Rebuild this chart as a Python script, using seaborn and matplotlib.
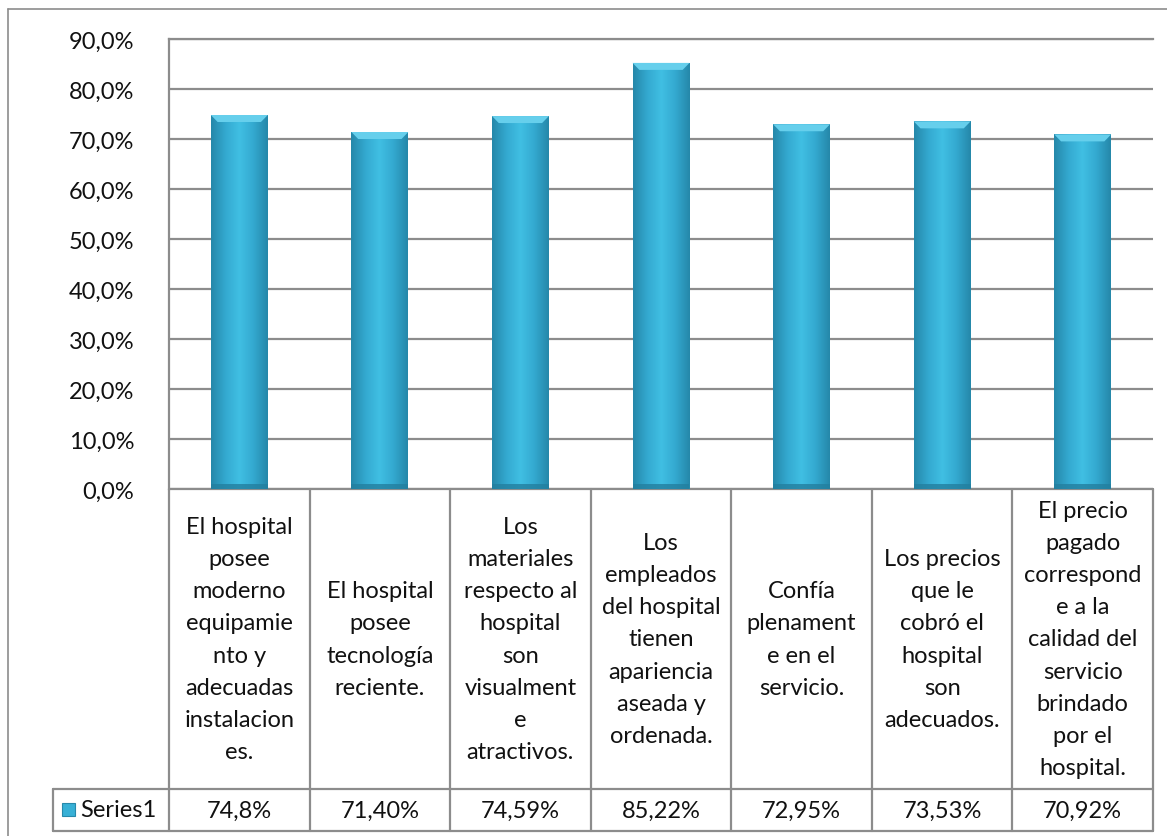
import numpy as np
import pandas as pd
import matplotlib
matplotlib.use("Agg")
import matplotlib.pyplot as plt
import seaborn as sns
from matplotlib.transforms import blended_transform_factory
from matplotlib.colors import LinearSegmentedColormap

# --- data ---
categories = [
    "El hospital\nposee\nmoderno\nequipamie\nnto y\nadecuadas\ninstalacion\nes.",
    "El hospital\nposee\ntecnología\nreciente.",
    "Los\nmateriales\nrespecto al\nhospital\nson\nvisualment\ne\natractivos.",
    "Los\nempleados\ndel hospital\ntienen\napariencia\naseada y\nordenada.",
    "Confía\nplenament\ne en el\nservicio.",
    "Los precios\nque le\ncobró el\nhospital\nson\nadecuados.",
    "El precio\npagado\ncorrespond\ne a la\ncalidad del\nservicio\nbrindado\npor el\nhospital.",
]
values = [74.8, 71.40, 74.59, 85.22, 72.95, 73.53, 70.92]
value_labels = ["74,8%", "71,40%", "74,59%", "85,22%", "72,95%", "73,53%", "70,92%"]
series_name = "Series1"
yticks = [0, 10, 20, 30, 40, 50, 60, 70, 80, 90]

sns.set_style("white")
plt.rcParams['font.family'] = ['Lato', 'DejaVu Sans']
FS = 17
GRID = "#8c8c8c"
TXT = "#111111"

W, H = 1167, 837
fig = plt.figure(figsize=(W / 100, H / 100), dpi=100)

# overlay axes in pixel coordinates for table / border
ov = fig.add_axes([0, 0, 1, 1], zorder=0)
ov.set_xlim(0, W)
ov.set_ylim(H, 0)
ov.axis("off")

x0, x1, ytop, ybot = 169, 1153, 40, 490
ax = fig.add_axes([x0 / W, 1 - ybot / H, (x1 - x0) / W, (ybot - ytop) / H], zorder=2)
ax.patch.set_alpha(0)

df = pd.DataFrame({"cat": [str(i) for i in range(len(values))], "val": values})
sns.barplot(data=df, x="cat", y="val", color="#37b0d6", width=0.405, ax=ax,
            saturation=1, edgecolor="none", zorder=3)
ax.set_xlim(-0.5, len(values) - 0.5)
ax.set_ylim(0, 90)
ax.set_yticks(yticks)
ax.set_yticklabels([f"{t:.1f}%".replace(".", ",") for t in yticks], fontsize=FS, color=TXT)
ax.tick_params(axis="y", length=0, pad=25)
ax.set_xticks([])
ax.set_xlabel("")
ax.set_ylabel("")
ax.yaxis.grid(True, color=GRID, linewidth=1.6, zorder=1)
ax.set_axisbelow(True)
for s in ["right", "bottom"]:
    ax.spines[s].set_visible(False)
ax.spines["top"].set_color(GRID)
ax.spines["top"].set_linewidth(1.6)
ax.spines["left"].set_color(GRID)
ax.spines["left"].set_linewidth(1.6)

# cylinder-like gradient fill on bars
cmap = LinearSegmentedColormap.from_list("bev", ["#2588aa", "#34a9d0", "#40bfe3", "#34a9d0", "#2588aa"])
xs = np.linspace(0, 1, 64)
grad = np.tile(xs, (64, 1))
for p in ax.patches:
    bx, by, bw, bh = p.get_x(), p.get_y(), p.get_width(), p.get_height()
    im = ax.imshow(grad, cmap=cmap, extent=[bx, bx + bw, by, by + bh],
                   aspect="auto", zorder=4, interpolation="bicubic")
    im.set_clip_path(p)
    # top bevel
    ax.fill([bx, bx + bw, bx + bw * 0.88, bx + bw * 0.12],
            [by + bh, by + bh, by + bh - 1.4, by + bh - 1.4],
            color="#66cfec", zorder=5, lw=0)
    # bottom shade
    ax.fill([bx, bx + bw, bx + bw, bx],
            [0, 0, 1.0, 1.0], color="#237f9f", zorder=5, lw=0, alpha=0.8)
ax.set_xlim(-0.5, len(values) - 0.5)
ax.set_ylim(0, 90)

# --- data table ---
tr = blended_transform_factory(ax.transData, ov.transData)
row_top, row_bot = 790, 832
lw = 1.6
ov.plot([x0, x1], [ybot, ybot], color=GRID, lw=lw)
for i in range(len(values) + 1):
    ov.plot([i - 0.5, i - 0.5], [ybot, row_bot], color=GRID, lw=lw, transform=tr)
ov.plot([53, x1], [row_top, row_top], color=GRID, lw=lw)
ov.plot([53, x1], [row_bot, row_bot], color=GRID, lw=lw)
ov.plot([53, 53], [row_top, row_bot], color=GRID, lw=lw)
for i, (c, v) in enumerate(zip(categories, value_labels)):
    ov.text(i, (ybot + row_top) / 2, c, transform=tr, ha="center", va="center",
            fontsize=FS, linespacing=1.65, color=TXT)
    ov.text(i, (row_top + row_bot) / 2, v, transform=tr, ha="center", va="center",
            fontsize=FS, color=TXT)
# legend key
ov.add_patch(plt.Rectangle((62, 804), 13, 13, facecolor="#37b0d6", edgecolor="#2689ab", lw=0.8))
ov.text(80, (row_top + row_bot) / 2, series_name, ha="left", va="center", fontsize=FS, color=TXT)

# outer chart border
ov.plot([8, 8], [10, H], color=GRID, lw=1.2)
ov.plot([8, W], [10, 10], color=GRID, lw=1.2)

fig.savefig("out.png", dpi=100)
